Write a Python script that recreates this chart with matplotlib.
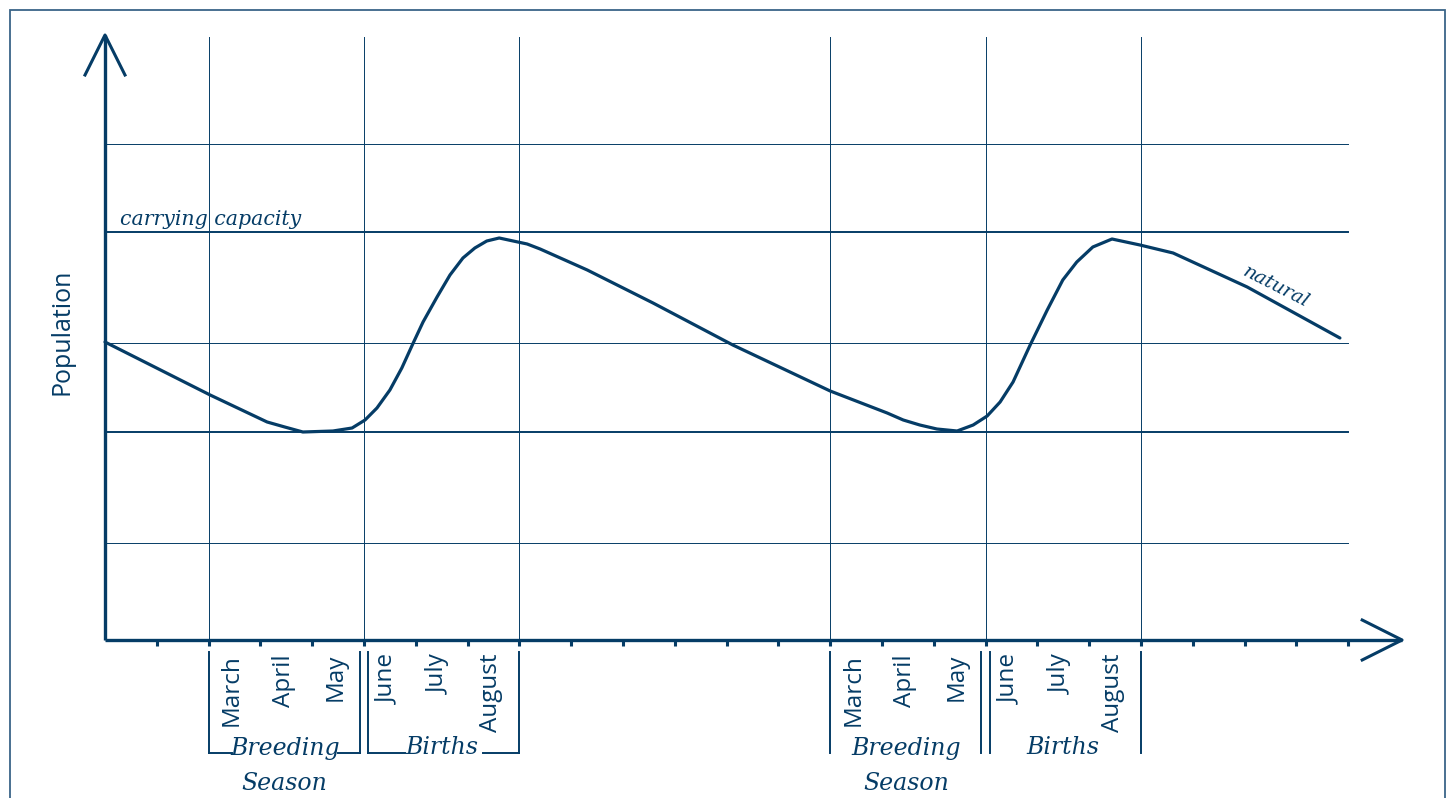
import numpy as np
import matplotlib.pyplot as plt
from matplotlib.patches import Rectangle

# population curve (x = month index from start, y = population units)
t = [0, 2.03, 3.13, 3.47, 3.82, 4.40, 4.77, 5.02, 5.25, 5.50, 5.73, 5.95, 6.14, 6.41,
     6.66, 6.91, 7.14, 7.37, 7.61, 7.88, 8.15, 8.40, 9.31, 10.58, 12.12, 14.00, 15.10,
     15.41, 15.73, 16.06, 16.45, 16.76, 17.03, 17.28, 17.53, 17.86, 18.19, 18.49, 18.76,
     19.07, 19.44, 19.98, 20.62, 22.05, 23.84]
pop = [2.98, 2.45, 2.18, 2.13, 2.08, 2.09, 2.12, 2.20, 2.32, 2.50, 2.72, 2.97, 3.18, 3.43,
       3.65, 3.82, 3.92, 3.99, 4.02, 3.99, 3.96, 3.91, 3.70, 3.37, 2.95, 2.49, 2.27,
       2.20, 2.15, 2.11, 2.09, 2.15, 2.24, 2.38, 2.58, 2.95, 3.30, 3.60, 3.78,
       3.93, 4.01, 3.95, 3.87, 3.53, 3.02]

hlines_thin = [0.97, 2.97, 4.96]
hlines_thick = [2.08, 4.08]   # lower level / carrying capacity
vlines = [2, 5, 8, 14, 17, 20]
months = ['March', 'April', 'May', 'June', 'July', 'August']
season_starts = [2, 14]
n_ticks = 24

col = '#053c66'
sans = 'Open Sans'
serif = 'DejaVu Serif'

fig = plt.figure(figsize=(14.49, 7.98), dpi=100)
ax = fig.add_axes([0, 0, 1, 1])
ax.set_xlim(-105 / 51.8, (1449 - 105) / 51.8)
ax.set_ylim(-1.58, 6.40)
ax.axis('off')

# frame
fig.add_artist(Rectangle((10 / 1449, -0.1), 1435 / 1449, 1.1 - 10 / 798,
                         transform=fig.transFigure, fill=False, ec='#3a6488', lw=1.3))

# grid
for y in hlines_thin:
    ax.plot([0, 24], [y, y], color=col, lw=0.7)
for y in hlines_thick:
    ax.plot([0, 24], [y, y], color=col, lw=1.4)
for x in vlines:
    ax.plot([x, x], [0, 6.03], color=col, lw=0.7)

# axes with chevron arrows
ax.plot([0, 0], [0, 6.05], color=col, lw=2.4, solid_capstyle='butt')
ax.plot([0, 25.04], [0, 0], color=col, lw=2.4, solid_capstyle='butt')
ax.plot([-0.386, 0, 0.386], [5.65, 6.05, 5.65], color=col, lw=2.2)
ax.plot([24.27, 25.04, 24.27], [0.2, 0, -0.2], color=col, lw=2.2)
for i in range(1, n_ticks + 1):
    ax.plot([i, i], [0.01, -0.06], color=col, lw=2.2, solid_capstyle='butt')

# curve
ax.plot(t, pop, color=col, lw=2.3, solid_joinstyle='round', solid_capstyle='round')

ax.text(-0.83, 3.08, 'Population', rotation=90, ha='center', va='center',
        fontsize=18, color=col, family=sans)
ax.text(0.29, 4.11, 'carrying capacity', ha='left', va='bottom', fontsize=14.8,
        color=col, family=serif, style='italic')
ax.text(22.52, 3.45, 'natural', rotation=-27, ha='center', va='bottom', fontsize=14,
        color=col, family=serif, style='italic', rotation_mode='anchor')

# month labels and season brackets
for k, s in enumerate(season_starts):
    for j, m in enumerate(months):
        ax.text(s + j + 0.45, -0.14, m, rotation=90, ha='center', va='top',
                fontsize=17.5, color=col, family=sans)
    bot = -1.13
    top = -0.12
    ax.plot([s, s], [top, bot], color=col, lw=1.4)
    ax.plot([s + 2.92, s + 2.92], [top, bot], color=col, lw=1.4)
    ax.plot([s + 3.08, s + 3.08], [top, bot], color=col, lw=1.4)
    ax.plot([s + 6, s + 6], [top, bot], color=col, lw=1.4)
    if k == 0:
        ax.plot([s, s + 0.45], [bot, bot], color=col, lw=1.4)
        ax.plot([s + 2.5, s + 2.92], [bot, bot], color=col, lw=1.4)
        ax.plot([s + 3.08, s + 3.8], [bot, bot], color=col, lw=1.4)
        ax.plot([s + 5.3, s + 6], [bot, bot], color=col, lw=1.4)
    ax.text(s + 1.47, -1.08, 'Breeding', ha='center', va='center', fontsize=17,
            color=col, family=serif, style='italic')
    ax.text(s + 1.47, -1.43, 'Season', ha='center', va='center', fontsize=17,
            color=col, family=serif, style='italic')
    ax.text(s + 4.5, -1.08, 'Births', ha='center', va='center', fontsize=17,
            color=col, family=serif, style='italic')

fig.savefig('out.png', dpi=100)
